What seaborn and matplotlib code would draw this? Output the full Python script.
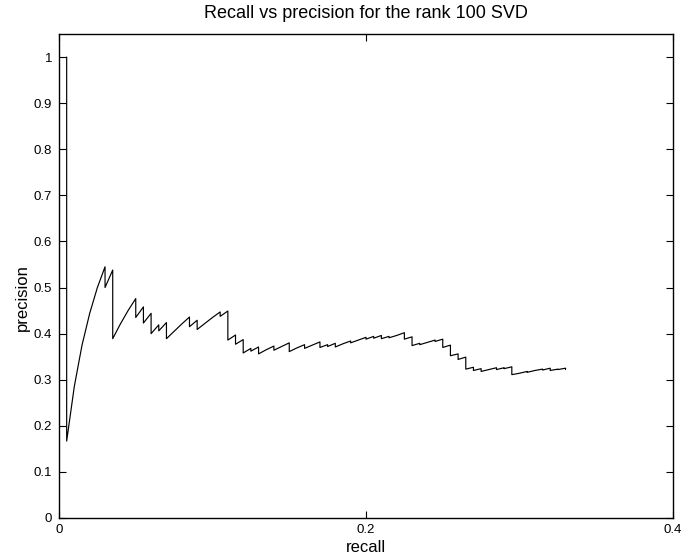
import matplotlib
matplotlib.use("Agg")
import matplotlib.pyplot as plt
import seaborn as sns
import pandas as pd

# Vertices of the precision/recall curve
recall = [0.005, 0.005, 0.010, 0.015, 0.020, 0.025, 0.030, 0.030, 0.035, 0.035,
          0.040, 0.045, 0.050, 0.050, 0.055, 0.055, 0.060, 0.060, 0.065, 0.065,
          0.070, 0.070, 0.075, 0.080, 0.085, 0.085, 0.090, 0.090, 0.095, 0.100,
          0.105, 0.105, 0.110, 0.110, 0.115, 0.115, 0.120, 0.120, 0.125, 0.125,
          0.130, 0.130, 0.135, 0.140, 0.140, 0.145, 0.150, 0.150, 0.155, 0.160,
          0.160, 0.165, 0.170, 0.170, 0.175, 0.175, 0.180, 0.180, 0.185, 0.190,
          0.190, 0.195, 0.200, 0.200, 0.205, 0.205, 0.210, 0.210, 0.215, 0.215,
          0.220, 0.225, 0.225, 0.230, 0.230, 0.235, 0.235, 0.240, 0.245, 0.245,
          0.250, 0.250, 0.255, 0.255, 0.260, 0.260, 0.265, 0.265, 0.270, 0.270,
          0.275, 0.275, 0.280, 0.285, 0.285, 0.290, 0.290, 0.295, 0.295, 0.300,
          0.305, 0.305, 0.310, 0.315, 0.315, 0.320, 0.320, 0.325, 0.325, 0.330,
          0.330]
precision = [1.000, 0.167, 0.286, 0.375, 0.444, 0.500, 0.545, 0.500, 0.538, 0.389,
             0.421, 0.450, 0.476, 0.435, 0.458, 0.423, 0.444, 0.400, 0.419, 0.406,
             0.424, 0.389, 0.405, 0.421, 0.436, 0.415, 0.429, 0.409, 0.422, 0.435,
             0.447, 0.4375, 0.449, 0.386, 0.397, 0.377, 0.387, 0.358, 0.368, 0.362,
             0.371, 0.356, 0.365, 0.373, 0.364, 0.372, 0.380, 0.361, 0.369, 0.376,
             0.368, 0.375, 0.382, 0.370, 0.376, 0.372, 0.379, 0.371, 0.378, 0.384,
             0.380, 0.386, 0.392, 0.388, 0.394, 0.390, 0.396, 0.389, 0.394, 0.391,
             0.396, 0.402, 0.388, 0.393, 0.374, 0.379, 0.376, 0.381, 0.386, 0.383,
             0.388, 0.370, 0.375, 0.352, 0.356, 0.344, 0.349, 0.323, 0.327, 0.320,
             0.324, 0.318, 0.322, 0.326, 0.322, 0.326, 0.324, 0.328, 0.311, 0.314,
             0.318, 0.316, 0.320, 0.323, 0.321, 0.325, 0.320, 0.323, 0.322, 0.325,
             0.322]

x_ticks = [0.0, 0.2, 0.4]
x_tick_labels = ["0", "0.2", "0.4"]
y_ticks = [0.0, 0.1, 0.2, 0.3, 0.4, 0.5, 0.6, 0.7, 0.8, 0.9, 1.0]
y_tick_labels = ["0", "0.1", "0.2", "0.3", "0.4", "0.5", "0.6", "0.7", "0.8", "0.9", "1"]

title = "Recall vs precision for the rank 100 SVD"
x_label = "recall"
y_label = "precision"

sns.set_theme(style="ticks")
plt.rcParams["font.family"] = ["Liberation Sans", "DejaVu Sans"]
plt.rcParams["axes.edgecolor"] = "black"
plt.rcParams["xtick.color"] = "black"
plt.rcParams["ytick.color"] = "black"

df = pd.DataFrame({"recall": recall, "precision": precision})

fig = plt.figure(figsize=(6.84, 5.6), dpi=100)
ax = fig.add_axes([59 / 684, 42 / 560, 614 / 684, 484 / 560])
sns.lineplot(data=df, x="recall", y="precision", sort=False, estimator=None,
             color="black", linewidth=0.85, ax=ax)

ax.set_xlim(0, 0.4)
ax.set_ylim(0, 1.05)
ax.set_xticks(x_ticks)
ax.set_xticklabels(x_tick_labels)
ax.set_yticks(y_ticks)
ax.set_yticklabels(y_tick_labels)
ax.tick_params(direction="in", length=5, width=0.8, labelsize=9.5,
               top=True, right=True, labelcolor="black")
ax.tick_params(axis="y", pad=5)
ax.tick_params(axis="x", pad=4)
for s in ax.spines.values():
    s.set_visible(True)
    s.set_linewidth(1.0)
    s.set_color("black")

ax.set_title(title, fontsize=13, pad=11.5, color="black")
ax.set_xlabel(x_label, fontsize=12, labelpad=3, color="black")
ax.set_ylabel(y_label, fontsize=12, labelpad=2, color="black")
ax.yaxis.set_label_coords(-0.047, 0.455)
ax.grid(False)

fig.savefig("out.png", dpi=100, facecolor="white")
